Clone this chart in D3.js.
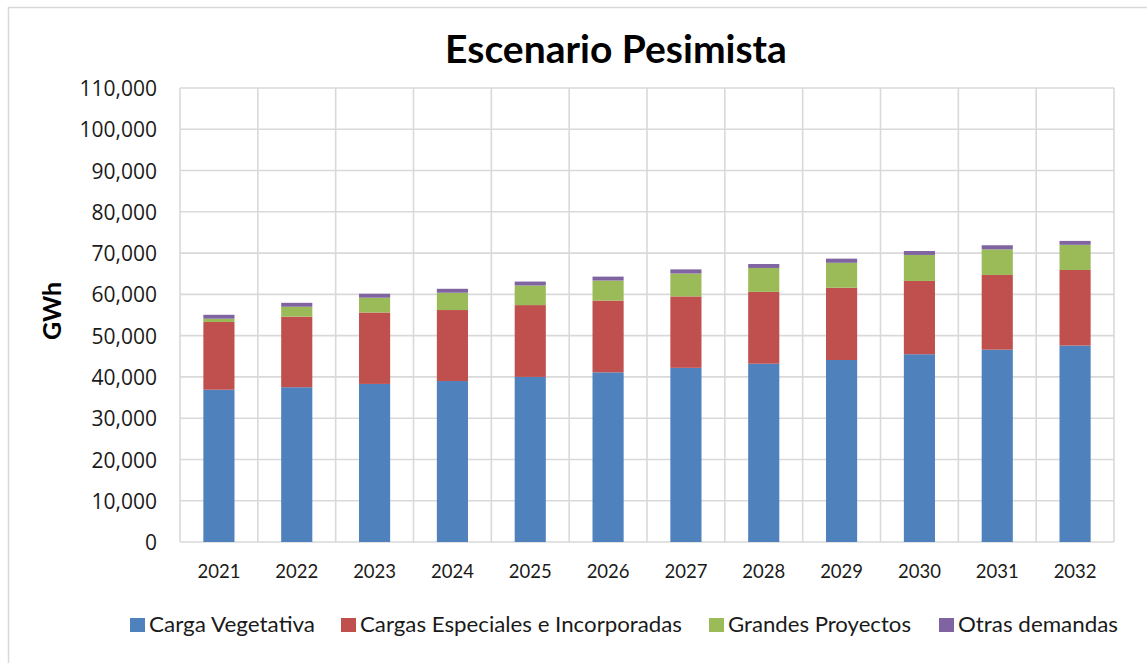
<!DOCTYPE html>
<html>
<head>
<meta charset="utf-8">
<script src="https://cdn.jsdelivr.net/npm/d3@7"></script>
<style>
  html, body { margin: 0; padding: 0; background: #fff; }
  svg { display: block; }
</style>
</head>
<body>
<svg id="chart" width="1147" height="663"></svg>
<script>
// Years on the horizontal axis
const years = ["2021","2022","2023","2024","2025","2026","2027","2028","2029","2030","2031","2032"];

// Demand components (GWh), stacked bottom to top
const cargaVegetativa   = [36900, 37500, 38300, 39000, 40000, 41100, 42200, 43200, 44100, 45500, 46600, 47600];
const cargasEspeciales  = [16400, 17100, 17300, 17200, 17400, 17400, 17300, 17400, 17500, 17750, 18100, 18300];
const grandesProyectos  = [800, 2400, 3600, 4200, 4750, 4850, 5550, 5800, 6050, 6300, 6200, 6100];
const otrasDemandas     = [950, 950, 950, 950, 950, 950, 1000, 950, 1000, 950, 1000, 950];

const seriesNames = ["Carga Vegetativa", "Cargas Especiales e Incorporadas", "Grandes Proyectos", "Otras demandas"];
const seriesColors = ["#4f81bd", "#c0504d", "#9bbb59", "#8064a2"];

// Value-axis ticks
const yTicks = [0, 10000, 20000, 30000, 40000, 50000, 60000, 70000, 80000, 90000, 100000, 110000];

const chartTitle = "Escenario Pesimista";
const yTitle = "GWh";

const seriesValues = [cargaVegetativa, cargasEspeciales, grandesProyectos, otrasDemandas];
const rows = years.map((yr, i) => {
  const r = { year: yr };
  seriesNames.forEach((n, s) => { r[n] = seriesValues[s][i]; });
  return r;
});

const svg = d3.select("#chart");
const plot = { left: 180, right: 1114, top: 88, bottom: 542 };

const x = d3.scaleBand()
  .domain(years)
  .range([plot.left, plot.right])
  .paddingInner(0.6)
  .paddingOuter(0.3);

const y = d3.scaleLinear()
  .domain([0, 110000])
  .range([plot.bottom, plot.top]);

// Outer chart frame (left and top edges visible)
svg.append("rect")
  .attr("x", 8.5).attr("y", 7.5)
  .attr("width", 1300).attr("height", 800)
  .attr("fill", "none")
  .attr("stroke", "#d9d9d9")
  .attr("stroke-width", 1.5);

const gridColor = "#d9d9d9";

// Horizontal gridlines
svg.append("g")
  .selectAll("line")
  .data(yTicks)
  .join("line")
  .attr("x1", plot.left).attr("x2", plot.right)
  .attr("y1", d => y(d)).attr("y2", d => y(d))
  .attr("stroke", gridColor)
  .attr("stroke-width", 1.6);

// Vertical gridlines at category boundaries
const boundaries = d3.range(years.length + 1).map(i => plot.left + i * x.step());
svg.append("g")
  .selectAll("line")
  .data(boundaries)
  .join("line")
  .attr("x1", d => d).attr("x2", d => d)
  .attr("y1", plot.top).attr("y2", plot.bottom)
  .attr("stroke", gridColor)
  .attr("stroke-width", 1.6);

// Stacked bars
const stack = d3.stack().keys(seriesNames);
const layers = stack(rows);

svg.append("g")
  .selectAll("g")
  .data(layers)
  .join("g")
  .attr("fill", (d, i) => seriesColors[i])
  .selectAll("rect")
  .data(d => d)
  .join("rect")
  .attr("x", d => x(d.data.year))
  .attr("width", x.bandwidth())
  .attr("y", d => y(d[1]))
  .attr("height", d => y(d[0]) - y(d[1]));

// Y axis labels
const yAxis = d3.axisLeft(y)
  .tickValues(yTicks)
  .tickFormat(d3.format(","))
  .tickSize(0)
  .tickPadding(0);

const yg = svg.append("g")
  .attr("transform", `translate(${plot.left - 23},0)`)
  .call(yAxis);
yg.select(".domain").remove();
yg.selectAll("text")
  .attr("font-family", "'Open Sans', sans-serif")
  .attr("font-size", 21)
  .attr("fill", "#1a1a1a")
  .attr("dy", "0.36em");

// X axis labels
const xAxis = d3.axisBottom(x).tickSize(0).tickPadding(0);
const xg = svg.append("g")
  .attr("transform", `translate(0,${plot.bottom})`)
  .call(xAxis);
xg.select(".domain").remove();
xg.selectAll("text")
  .attr("font-family", "Lato, sans-serif")
  .attr("font-size", 18.5)
  .attr("fill", "#1a1a1a")
  .attr("y", 36)
  .attr("dy", 0);

// Title
svg.append("text")
  .attr("x", 616)
  .attr("y", 63)
  .attr("text-anchor", "middle")
  .attr("font-family", "Lato, sans-serif")
  .attr("font-weight", "bold")
  .attr("font-size", 39)
  .attr("fill", "#000")
  .text(chartTitle);

// Y axis title
svg.append("text")
  .attr("transform", "translate(61,311) rotate(-90)")
  .attr("text-anchor", "middle")
  .attr("font-family", "Lato, sans-serif")
  .attr("font-weight", "bold")
  .attr("font-size", 25)
  .attr("fill", "#000")
  .text(yTitle);

// Legend: swatch positions and label widths
const legendStarts = [130, 341, 709, 939];
const legendWidths = [166, 322, 183, 160];
const legend = svg.append("g");
seriesNames.forEach((name, i) => {
  const g = legend.append("g").attr("transform", `translate(${legendStarts[i]},618)`);
  g.append("rect")
    .attr("width", 15).attr("height", 14)
    .attr("fill", seriesColors[i]);
  g.append("text")
    .attr("x", 19)
    .attr("y", 14)
    .attr("font-family", "Lato, sans-serif")
    .attr("font-size", 21.5)
    .attr("textLength", legendWidths[i])
    .attr("lengthAdjust", "spacingAndGlyphs")
    .attr("fill", "#1a1a1a")
    .text(name);
});
</script>
</body>
</html>
